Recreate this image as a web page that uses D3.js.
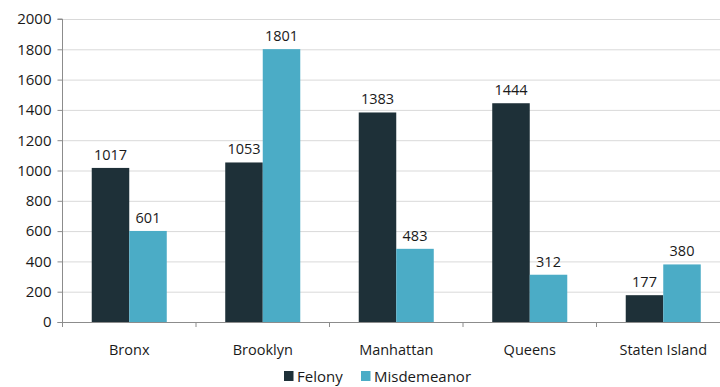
<!DOCTYPE html>
<html>
<head>
<meta charset="utf-8">
<script src="https://cdn.jsdelivr.net/npm/d3@7"></script>
<style>
  html, body { margin: 0; padding: 0; background: #fff; overflow: hidden; }
  svg { display: block; font-family: "Open Sans", "Noto Sans", sans-serif; }
</style>
</head>
<body>
<svg id="chart" width="720" height="387"></svg>
<script>
const boroughs = ["Bronx", "Brooklyn", "Manhattan", "Queens", "Staten Island"];
const seriesNames = ["Felony", "Misdemeanor"];
const felony = [1017, 1053, 1383, 1444, 177];
const misdemeanor = [601, 1801, 483, 312, 380];
const yTicks = [0, 200, 400, 600, 800, 1000, 1200, 1400, 1600, 1800, 2000];
const colors = ["#1e3038", "#4bacc6"];

const svg = d3.select("#chart");
const plotL = 62.5, plotR = 730, plotT = 19, plotB = 322;

const x = d3.scaleBand().domain(boroughs).range([plotL, plotR]).paddingInner(0).paddingOuter(0);
const bandW = x.bandwidth();
const barW = bandW * 0.281;
const xs = d3.scaleBand().domain(seriesNames).range([0, barW * 2]);
const y = d3.scaleLinear().domain([0, 2000]).range([plotB, plotT]);

// horizontal gridlines
svg.append("g").selectAll("line").data(yTicks.filter(d => d > 0)).join("line")
  .attr("x1", plotL).attr("x2", plotR)
  .attr("y1", d => y(d) + 0.5).attr("y2", d => y(d) + 0.5)
  .attr("stroke", "#d9d9d9").attr("stroke-width", 1);

const series = [felony, misdemeanor];
const groups = svg.append("g").selectAll("g").data(boroughs).join("g")
  .attr("transform", d => `translate(${x(d) + (bandW - barW * 2) / 2},0)`);

seriesNames.forEach((name, si) => {
  groups.append("rect")
    .attr("x", xs(name))
    .attr("width", xs.bandwidth())
    .attr("y", (d, i) => y(series[si][i]))
    .attr("height", (d, i) => y(0) - y(series[si][i]))
    .attr("fill", colors[si]);
  groups.append("text")
    .attr("x", xs(name) + xs.bandwidth() / 2)
    .attr("y", (d, i) => y(series[si][i]) - 8)
    .attr("text-anchor", "middle")
    .attr("font-size", 14.5)
    .attr("fill", "#1a1a1a")
    .text((d, i) => series[si][i]);
});

// y axis
const yAxis = d3.axisLeft(y).tickValues(yTicks).tickFormat(d3.format("d")).tickSize(5).tickPadding(6);
const gy = svg.append("g").attr("transform", `translate(${plotL},0)`).call(yAxis);
gy.select(".domain").attr("stroke", "#8c8c8c").attr("d", `M-5,${plotT}H0V${plotB}`);
gy.selectAll(".tick line").attr("stroke", "#8c8c8c");
gy.selectAll(".tick text").attr("font-size", 15).attr("fill", "#1a1a1a")
  .attr("font-family", "'Open Sans', 'Noto Sans', sans-serif");

// x axis with ticks at category boundaries
const gx = svg.append("g").attr("transform", `translate(0,${plotB})`);
gx.append("line").attr("x1", plotL - 5).attr("x2", plotR).attr("y1", 0.5).attr("y2", 0.5)
  .attr("stroke", "#8c8c8c");
gx.selectAll("line.tk").data(boroughs.concat(["_end"])).join("line").attr("class", "tk")
  .attr("x1", (d, i) => plotL + i * bandW).attr("x2", (d, i) => plotL + i * bandW)
  .attr("y1", 0).attr("y2", 5).attr("stroke", "#8c8c8c");
gx.selectAll("text").data(boroughs).join("text")
  .attr("x", d => x(d) + bandW / 2)
  .attr("y", 33)
  .attr("text-anchor", "middle")
  .attr("font-size", 14.5)
  .attr("fill", "#1a1a1a")
  .text(d => d);

// legend
const legend = svg.append("g").attr("transform", "translate(284,371)");
const legX = [0, 77];
seriesNames.forEach((name, i) => {
  legend.append("rect").attr("x", legX[i]).attr("y", 0).attr("width", 9.5).attr("height", 10)
    .attr("fill", colors[i]);
  legend.append("text").attr("x", legX[i] + 13).attr("y", 11)
    .attr("font-size", 15).attr("fill", "#1a1a1a").text(name);
});
</script>
</body>
</html>
